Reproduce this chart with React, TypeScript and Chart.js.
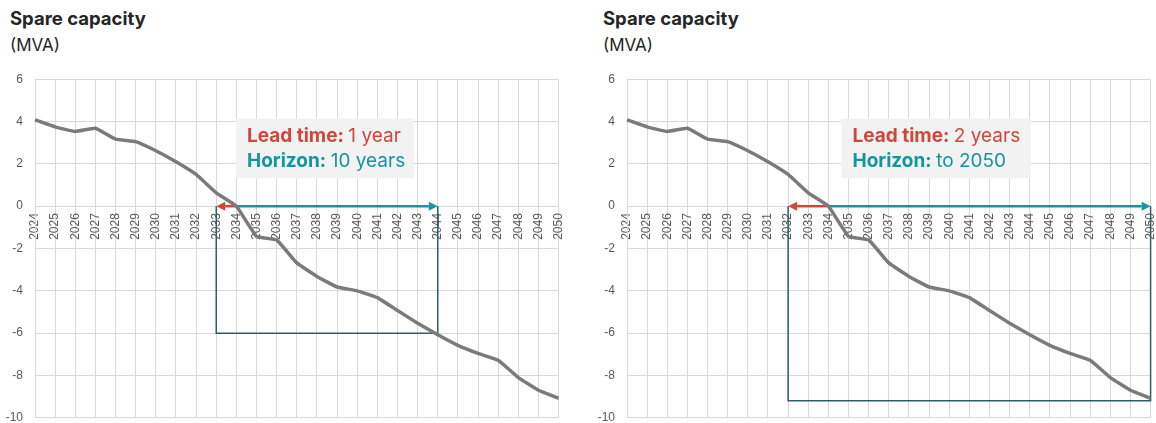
import React, { useEffect, useRef } from "react";
import { Chart, registerables } from "chart.js";

Chart.register(...registerables);

// ---- data ----
const years = [
  "2024", "2025", "2026", "2027", "2028", "2029", "2030", "2031", "2032",
  "2033", "2034", "2035", "2036", "2037", "2038", "2039", "2040", "2041",
  "2042", "2043", "2044", "2045", "2046", "2047", "2048", "2049", "2050",
];
const spareCapacity = [
  4.08, 3.75, 3.53, 3.68, 3.17, 3.05, 2.62, 2.1, 1.5,
  0.63, 0.0, -1.43, -1.6, -2.68, -3.32, -3.82, -4.0, -4.32,
  -4.93, -5.53, -6.08, -6.58, -6.96, -7.28, -8.1, -8.7, -9.08,
];
const yMin = -10;
const yMax = 6;
const yStep = 2;

const titleText = "Spare capacity";
const unitText = "(MVA)";

// left panel annotation
const leftLead = { from: "2034", to: "2033", label: "Lead time:", value: "1 year" };
const leftHorizon = { to: "2044", bottom: -6, label: "Horizon:", value: "10 years" };
// right panel annotation
const rightLead = { from: "2034", to: "2032", label: "Lead time:", value: "2 years" };
const rightHorizon = { to: "2050", bottom: -9.2, label: "Horizon:", value: "to 2050" };

const RED = "#d0463b";
const TEAL = "#17959f";
const BOX = "#2c5e64";
const GRID = "#d9d9d9";
const TICK = "#595959";
const LINE = "#7b7b7b";

type PanelCfg = {
  lead: typeof leftLead;
  horizon: typeof leftHorizon;
  noteX1: number; // box position in category-index units
  noteX2: number;
  noteTop: number; // in value units
  noteBottom: number;
};

const leftCfg: PanelCfg = { lead: leftLead, horizon: leftHorizon, noteX1: 9.98, noteX2: 18.81, noteTop: 4.14, noteBottom: 1.32 };
const rightCfg: PanelCfg = { lead: rightLead, horizon: rightHorizon, noteX1: 10.65, noteX2: 20.05, noteTop: 4.14, noteBottom: 1.32 };

function arrow(ctx: CanvasRenderingContext2D, x0: number, x1: number, y: number, color: string) {
  const dir = x1 > x0 ? 1 : -1;
  const head = 9;
  const half = 4.5;
  ctx.save();
  ctx.strokeStyle = color;
  ctx.fillStyle = color;
  ctx.lineWidth = 2.5;
  ctx.beginPath();
  ctx.moveTo(x0, y);
  ctx.lineTo(x1 - dir * head, y);
  ctx.stroke();
  ctx.beginPath();
  ctx.moveTo(x1, y);
  ctx.lineTo(x1 - dir * head, y - half);
  ctx.lineTo(x1 - dir * head, y + half);
  ctx.closePath();
  ctx.fill();
  ctx.restore();
}

function makePlugin(cfg: PanelCfg) {
  return {
    id: "leadHorizon",
    beforeDatasetsDraw(chart: any) {
      const { ctx } = chart;
      const x = chart.scales.x;
      const y = chart.scales.y;
      const px = (lbl: string) => x.getPixelForValue(years.indexOf(lbl));
      const x0 = px(cfg.lead.from);
      const xl = px(cfg.lead.to);
      const xh = px(cfg.horizon.to);
      const y0 = y.getPixelForValue(0);
      const yb = y.getPixelForValue(cfg.horizon.bottom);
      ctx.save();
      ctx.strokeStyle = BOX;
      ctx.lineWidth = 1.5;
      ctx.beginPath();
      ctx.moveTo(xl, y0);
      ctx.lineTo(xl, yb);
      ctx.lineTo(xh, yb);
      ctx.lineTo(xh, y0);
      ctx.stroke();
      ctx.restore();
      arrow(ctx, x0, xh, y0, TEAL);
      arrow(ctx, x0, xl, y0, RED);
    },
    afterDatasetsDraw(chart: any) {
      const { ctx } = chart;
      const x = chart.scales.x;
      const y = chart.scales.y;
      const bx1 = x.getPixelForValue(cfg.noteX1);
      const bx2 = x.getPixelForValue(cfg.noteX2);
      const by1 = y.getPixelForValue(cfg.noteTop);
      const by2 = y.getPixelForValue(cfg.noteBottom);
      ctx.save();
      ctx.fillStyle = "#f2f2f2";
      ctx.fillRect(bx1, by1, bx2 - bx1, by2 - by1);
      ctx.textBaseline = "alphabetic";
      ctx.textAlign = "left";
      const tx = bx1 + 11;
      const lines = [
        { label: cfg.lead.label, value: cfg.lead.value, color: RED, dy: 23 },
        { label: cfg.horizon.label, value: cfg.horizon.value, color: TEAL, dy: 48 },
      ];
      for (const l of lines) {
        ctx.fillStyle = l.color;
        ctx.font = "bold 19px Inter";
        ctx.fillText(l.label, tx, by1 + l.dy);
        const w = ctx.measureText(l.label + " ").width;
        ctx.font = "19px Inter";
        ctx.fillText(l.value, tx + w, by1 + l.dy);
      }
      ctx.restore();
    },
  };
}

function Panel({ left, titleLeft, cfg }: { left: number; titleLeft: number; cfg: PanelCfg }) {
  const ref = useRef<HTMLCanvasElement | null>(null);
  useEffect(() => {
    if (!ref.current) return;
    const chart = new Chart(ref.current, {
      type: "line",
      data: {
        labels: years,
        datasets: [
          {
            data: spareCapacity,
            borderColor: LINE,
            borderWidth: 3.5,
            pointRadius: 0,
            tension: 0.1,
            fill: false,
          },
        ],
      },
      options: {
        responsive: false,
        animation: false,
        layout: { padding: { top: 17, bottom: 13, left: 0, right: 11 } },
        plugins: { legend: { display: false }, tooltip: { enabled: false }, title: { display: false } },
        scales: {
          x: {
            type: "category",
            position: { y: 0 } as any,
            offset: false,
            afterFit: (s: any) => { s.height = 0; },
            grid: { color: GRID, lineWidth: 1, drawTicks: false },
            border: { color: GRID },
            ticks: {
              autoSkip: false,
              minRotation: 90,
              maxRotation: 90,
              padding: 7,
              color: TICK,
              font: { family: "Liberation Sans", size: 12 },
            },
          },
          y: {
            type: "linear",
            min: yMin,
            max: yMax,
            afterFit: (s: any) => { s.width = 35; },
            grid: { color: GRID, lineWidth: 1, drawTicks: false },
            border: { color: GRID },
            ticks: {
              stepSize: yStep,
              padding: 12,
              color: TICK,
              font: { family: "Liberation Sans", size: 12 },
            },
          },
        },
      },
      plugins: [makePlugin(cfg)],
    });
    return () => chart.destroy();
  }, [cfg]);

  return (
    <>
      <div
        style={{
          position: "absolute",
          left: titleLeft,
          top: 5,
          fontFamily: "Inter",
          color: "#262626",
          whiteSpace: "nowrap",
        }}
      >
        <div style={{ fontWeight: 700, fontSize: 18.5, lineHeight: "27px" }}>{titleText}</div>
        <div style={{ fontWeight: 400, fontSize: 17, lineHeight: "26px" }}>{unitText}</div>
      </div>
      <canvas
        ref={ref}
        width={580}
        height={377}
        style={{ position: "absolute", left, top: 60, width: 580, height: 377 }}
      />
    </>
  );
}

export default function App() {
  return (
    <div
      style={{
        position: "fixed",
        left: 0,
        top: 0,
        width: 1156,
        height: 423,
        overflow: "hidden",
        background: "#ffffff",
      }}
    >
      <Panel left={0} titleLeft={10} cfg={leftCfg} />
      <Panel left={592} titleLeft={603} cfg={rightCfg} />
    </div>
  );
}
